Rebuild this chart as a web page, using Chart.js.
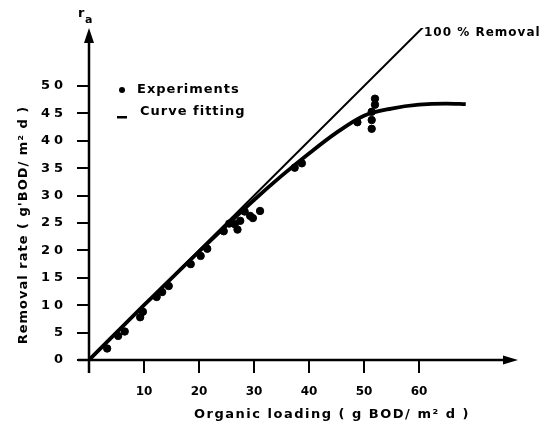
<!DOCTYPE html>
<html><head><meta charset="utf-8">
<script src="https://cdn.jsdelivr.net/npm/chart.js@4.4.1/dist/chart.umd.min.js"></script>
<style>html,body{margin:0;padding:0;background:#fff}</style>
</head><body>
<canvas id="c" width="544" height="424"></canvas>
<script>
// ---- data ----
const xTickValues = [10, 20, 30, 40, 50, 60];
const yTickValues = [0, 5, 10, 15, 20, 25, 30, 35, 40, 45, 50];
const expLoading = [3.3, 5.3, 6.5, 9.3, 9.8, 12.3, 13.3, 14.5, 18.5, 20.3, 21.5, 24.5, 25.5, 26.5, 27.0, 27.5, 28.3, 29.3, 29.8, 31.1, 37.4, 38.7, 48.8, 51.4, 51.4, 51.4, 52.0, 52.0];
const expRate    = [2.1, 4.4, 5.2, 7.8, 8.8, 11.5, 12.4, 13.5, 17.5, 19.0, 20.3, 23.5, 24.9, 24.8, 23.8, 25.4, 27.1, 26.3, 25.9, 27.2, 35.1, 35.9, 43.4, 45.3, 43.8, 42.2, 46.6, 47.7];
const fitLoading = [0, 10, 20, 30, 35, 40, 45, 50, 55, 60, 65, 68.5];
const fitRate    = [0, 10, 19.8, 29.2, 33.6, 37.7, 41.5, 44.6, 45.9, 46.6, 46.8, 46.7];
const removalLoading = [0, 61];
const removalRate    = [0, 61];
const labels = {
  experiments: 'Experiments',
  fit: 'Curve fitting',
  removal: '100 % Removal',
  xTitle: 'Organic loading ( g BOD/ m\u00B2 d )',
  yTitle: "Removal rate ( g'BOD/ m\u00B2 d )",
  yAxisSymbol: 'r',
  yAxisSub: 'a'
};

const FONT = '"DejaVu Sans", "Liberation Sans", sans-serif';
const toXY = (xs, ys) => xs.map((x, i) => ({x, y: ys[i]}));

const decor = {
  id: 'decor',
  afterUpdate(chart) {
    const ys = chart.scales.y;
    if (!ys._patched) {
      const orig = ys.drawLabels;
      ys.drawLabels = function (area) {
        const ctx = this.ctx; ctx.save(); ctx.letterSpacing = '4px';
        orig.call(this, area); ctx.restore();
      };
      ys._patched = true;
    }
  },
  afterDraw(chart) {
    const ctx = chart.ctx, xs = chart.scales.x, ys = chart.scales.y;
    const x0 = xs.getPixelForValue(0), y0 = ys.getPixelForValue(0);
    ctx.save();
    ctx.strokeStyle = '#000'; ctx.fillStyle = '#000'; ctx.lineWidth = 2.5;
    // x axis + arrow
    ctx.beginPath(); ctx.moveTo(x0 - 11, y0); ctx.lineTo(xs.right - 10, y0); ctx.stroke();
    ctx.beginPath(); ctx.moveTo(xs.right, y0); ctx.lineTo(xs.right - 15, y0 - 4.5); ctx.lineTo(xs.right - 15, y0 + 4.5); ctx.closePath(); ctx.fill();
    // y axis + arrow
    ctx.beginPath(); ctx.moveTo(x0, y0 + 13); ctx.lineTo(x0, ys.top + 10); ctx.stroke();
    ctx.beginPath(); ctx.moveTo(x0, ys.top); ctx.lineTo(x0 - 5, ys.top + 15); ctx.lineTo(x0 + 5, ys.top + 15); ctx.closePath(); ctx.fill();

    ctx.letterSpacing = '1px';
    ctx.textBaseline = 'middle';
    // r_a
    ctx.font = 'bold 13px ' + FONT; ctx.textAlign = 'left';
    ctx.fillText(labels.yAxisSymbol, 78, 14);
    ctx.font = 'bold 11px ' + FONT;
    ctx.fillText(labels.yAxisSub, 85, 20);
    // 100 % removal label
    ctx.font = 'bold 12px ' + FONT;
    ctx.fillText(labels.removal, 424, 33);
    // legend
    ctx.font = 'bold 13px ' + FONT;
    ctx.beginPath(); ctx.arc(122, 90, 3, 0, Math.PI * 2); ctx.fill();
    ctx.fillText(labels.experiments, 137, 90);
    ctx.fillRect(117, 116, 10, 2.5);
    ctx.fillText(labels.fit, 140, 112);
    // x title
    ctx.letterSpacing = '1.5px';
    ctx.textAlign = 'center';
    ctx.fillText(labels.xTitle, 332, 415);
    // y title
    ctx.letterSpacing = '1px';
    ctx.translate(24, 225); ctx.rotate(-Math.PI / 2);
    ctx.fillText(labels.yTitle, 0, 0);
    ctx.restore();
  }
};

new Chart(document.getElementById('c'), {
  type: 'scatter',
  data: {
    datasets: [
      { label: labels.experiments, data: toXY(expLoading, expRate), backgroundColor: '#000', borderColor: '#000', pointRadius: 3.7, pointHoverRadius: 3.7, showLine: false, order: 1 },
      { label: labels.fit, data: toXY(fitLoading, fitRate), showLine: true, borderColor: '#000', borderWidth: 3.8, pointRadius: 0, cubicInterpolationMode: 'monotone', fill: false, order: 2 },
      { label: labels.removal, data: toXY(removalLoading, removalRate), showLine: true, borderColor: '#000', borderWidth: 2, pointRadius: 0, fill: false, order: 3 }
    ]
  },
  options: {
    responsive: false, animation: false, devicePixelRatio: 1,
    layout: { padding: { left: 0, right: 26, top: 28, bottom: 0 } },
    plugins: { legend: { display: false }, tooltip: { enabled: false } },
    scales: {
      x: {
        type: 'linear', min: 0, max: 78,
        afterFit: s => { s.height = 64; },
        afterBuildTicks: s => { s.ticks = xTickValues.map(v => ({ value: v })); },
        grid: { drawOnChartArea: false, drawTicks: true, tickLength: 13, color: '#000', lineWidth: 2 },
        border: { display: false },
        ticks: { color: '#000', font: { family: FONT, size: 12, weight: 'bold' }, padding: 12, maxRotation: 0, autoSkip: false }
      },
      y: {
        type: 'linear', min: 0, max: 60.6,
        afterFit: s => { s.width = 89; },
        afterBuildTicks: s => { s.ticks = yTickValues.map(v => ({ value: v })); },
        grid: { drawOnChartArea: false, drawTicks: true, tickLength: 12, color: '#000', lineWidth: 2 },
        border: { display: false },
        ticks: { color: '#000', font: { family: FONT, size: 13, weight: 'bold' }, padding: 10, autoSkip: false }
      }
    }
  },
  plugins: [decor]
});
</script>
</body></html>
